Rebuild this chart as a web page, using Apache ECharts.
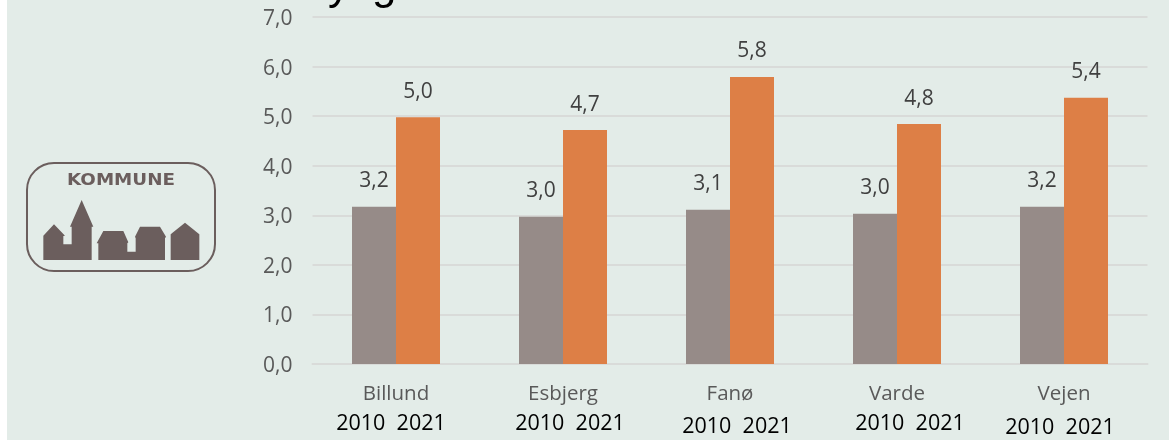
<!DOCTYPE html>
<html><head><meta charset="utf-8">
<style>html,body{margin:0;padding:0;background:#fff}#c{width:1169px;height:440px}</style>
<script src="https://cdn.jsdelivr.net/npm/echarts@6/dist/echarts.min.js"></script>
</head><body><div id="c"></div>
<script>
const categories = ['Billund','Esbjerg','Fanø','Varde','Vejen'];
const values2010 = [3.17,2.97,3.11,3.03,3.17];
const values2021 = [4.98,4.72,5.79,4.84,5.37];
const yearCaptions = [
  {text:'2010  2021', x:391, y:424},
  {text:'2010  2021', x:570, y:424},
  {text:'2010  2021', x:737, y:427},
  {text:'2010  2021', x:910, y:424},
  {text:'2010  2021', x:1060, y:428}
];
const BG='#e3ece8', GREY='#968b88', ORANGE='#dd7f46', LOGO='#6b5e5d', TXT='#595959';
const fmt = v => v.toFixed(1).replace('.',',');
const labelCfg = {show:true, position:'top', distance:15, color:'#404040', fontFamily:'Open Sans', fontSize:21,
  formatter:p=>fmt(p.value)};
const pts = a => a.map(p=>[20+p[0]/3,155+p[1]/3]);
const houses = [
 [[70,315],[70,242],[102,208],[135,242],[130,243],[130,268],[155,268],[155,215],[150,215],[185,135],[220,215],[215,215],[215,315]],
 [[235,315],[235,265],[230,265],[250,228],[310,228],[325,262],[322,265],[322,290],[347,290],[347,250],[345,245],[360,215],[420,215],[438,245],[435,250],[435,315]],
 [[452,315],[452,238],[495,203],[538,238],[538,315]]
];
const graphics = [
 {type:'rect', z:-10, silent:true, shape:{x:7,y:0,width:1162,height:440}, style:{fill:BG}},
 {type:'rect', shape:{x:27,y:163,width:188,height:108,r:27}, style:{fill:'none',stroke:LOGO,lineWidth:2}},
 {type:'text', x:121, y:181, scaleX:1.22, style:{text:'KOMMUNE',fill:LOGO,fontFamily:'DejaVu Sans',fontWeight:'bold',fontSize:15,align:'center',verticalAlign:'middle'}},
 ...houses.map(h=>({type:'polygon',shape:{points:pts(h)},style:{fill:LOGO}})),
 {type:'text', x:328, y:-35, style:{text:'y',fill:'#000',fontFamily:'Liberation Sans',fontSize:44}},
 {type:'text', x:372, y:-35, style:{text:'g',fill:'#000',fontFamily:'Liberation Sans',fontSize:44}},
 ...yearCaptions.map(c=>({type:'text',x:c.x,y:c.y,style:{text:c.text,fill:'#000',fontFamily:'Open Sans',fontSize:21.5,align:'center',verticalAlign:'middle'}}))
];
const chart = echarts.init(document.getElementById('c'),null,{renderer:'canvas'});
chart.setOption({
 animation:false,
 backgroundColor:'transparent',
 grid:{left:312.5,right:21.5,top:17,bottom:76},
 xAxis:{type:'category',data:categories,
  axisLine:{lineStyle:{color:'#d9dbd9',width:2}},axisTick:{show:false},
  axisLabel:{color:TXT,fontFamily:'Open Sans',fontSize:20.5,margin:20}},
 yAxis:{type:'value',min:0,max:7,interval:1,
  axisLine:{show:false},axisTick:{show:false},
  splitLine:{lineStyle:{color:'#d9dbd9',width:2}},
  axisLabel:{margin:20,formatter:v=>'{v|'+fmt(v)+'}',
   rich:{v:{color:TXT,fontFamily:'Open Sans',fontSize:21,padding:[4,0,0,0]}}}},
 series:[
  {type:'bar',name:'2010',data:values2010,barWidth:44,barGap:0,itemStyle:{color:GREY},label:labelCfg},
  {type:'bar',name:'2021',data:values2021,barWidth:44,barGap:0,itemStyle:{color:ORANGE},label:labelCfg}
 ],
 graphic:graphics
});
</script></body></html>
